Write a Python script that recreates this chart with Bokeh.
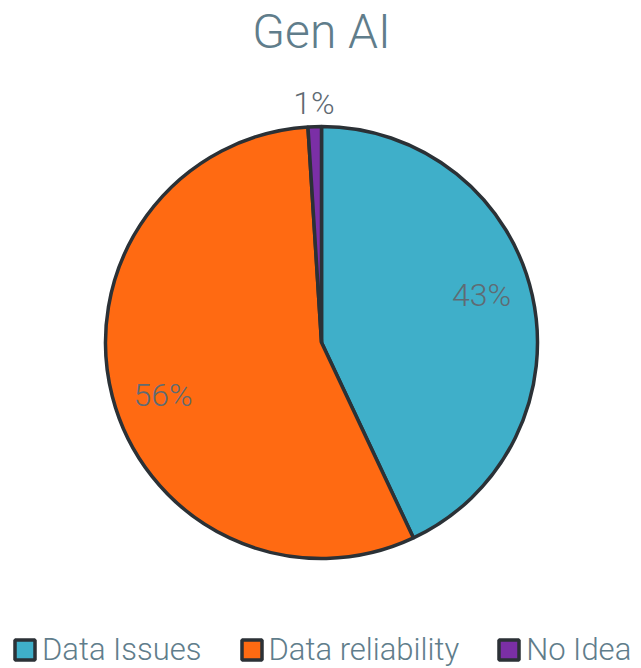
import math
from bokeh.plotting import figure
from bokeh.models import Range1d, ColumnDataSource, Legend, LegendItem
from bokeh.core.properties import value
from bokeh.embed import file_html
from bokeh.resources import INLINE

# ---- data ----
title_text = "Gen AI"
categories = ["Data Issues", "Data reliability", "No Idea"]
shares = [43, 56, 1]
slice_colors = ["#3FAFC9", "#FF6A12", "#7B2FA6"]

# ---- geometry ----
R = 216
total = float(sum(shares))
start_angles, end_angles, label_x, label_y, label_text = [], [], [], [], []
cum = 0.0
for s in shares:
    a_start = math.pi / 2 - 2 * math.pi * (cum + s) / total
    a_end = math.pi / 2 - 2 * math.pi * cum / total
    start_angles.append(a_start)
    end_angles.append(a_end)
    mid = (a_start + a_end) / 2
    if s / total < 0.05:
        r_lab = 240
        ang = mid
    else:
        r_lab = 167
        ang = mid + math.radians(4)
    label_x.append(r_lab * math.cos(ang))
    label_y.append(r_lab * math.sin(ang))
    label_text.append(f"{round(100 * s / total)}%")
    cum += s

src = ColumnDataSource(dict(cat=categories, start=start_angles, end=end_angles,
                            color=slice_colors))
lab = ColumnDataSource(dict(x=label_x, y=label_y, t=label_text))
ttl = ColumnDataSource(dict(x=[0], y=[311], t=[title_text]))

W, H = 641, 668
p = figure(width=W, height=H, output_backend="svg", toolbar_location=None,
           x_range=Range1d(-321, 320), y_range=Range1d(-326, 342),
           min_border=0)
p.axis.visible = False
p.grid.visible = False
p.outline_line_color = None
p.background_fill_color = "white"
p.border_fill_color = "white"

# title
p.text(x="x", y="y", text="t", source=ttl, text_align="center",
       text_baseline="alphabetic", text_font=value("Roboto Light"),
       text_font_size="48px", text_color="#607D8B")

w = p.wedge(x=0, y=0, radius=R, start_angle="start", end_angle="end",
            fill_color="color", line_color="#2B3136", line_width=3.5, source=src)

p.text(x="x", y="y", text="t", source=lab, text_align="center",
       text_baseline="middle", text_font=value("Roboto Light"),
       text_font_size="32px", text_color="#5F6B73")

legend = Legend(items=[LegendItem(label=c, renderers=[w], index=i)
                       for i, c in enumerate(categories)],
                orientation="horizontal", location=(12, 0),
                glyph_width=25, glyph_height=25, label_standoff=5, spacing=37,
                padding=0, margin=0, border_line_color=None,
                background_fill_alpha=0,
                label_text_font="Roboto Light",
                label_text_font_size="31px", label_text_color="#607D8B")
p.add_layout(legend, "center")

open("out.html", "w").write(file_html(p, INLINE))
